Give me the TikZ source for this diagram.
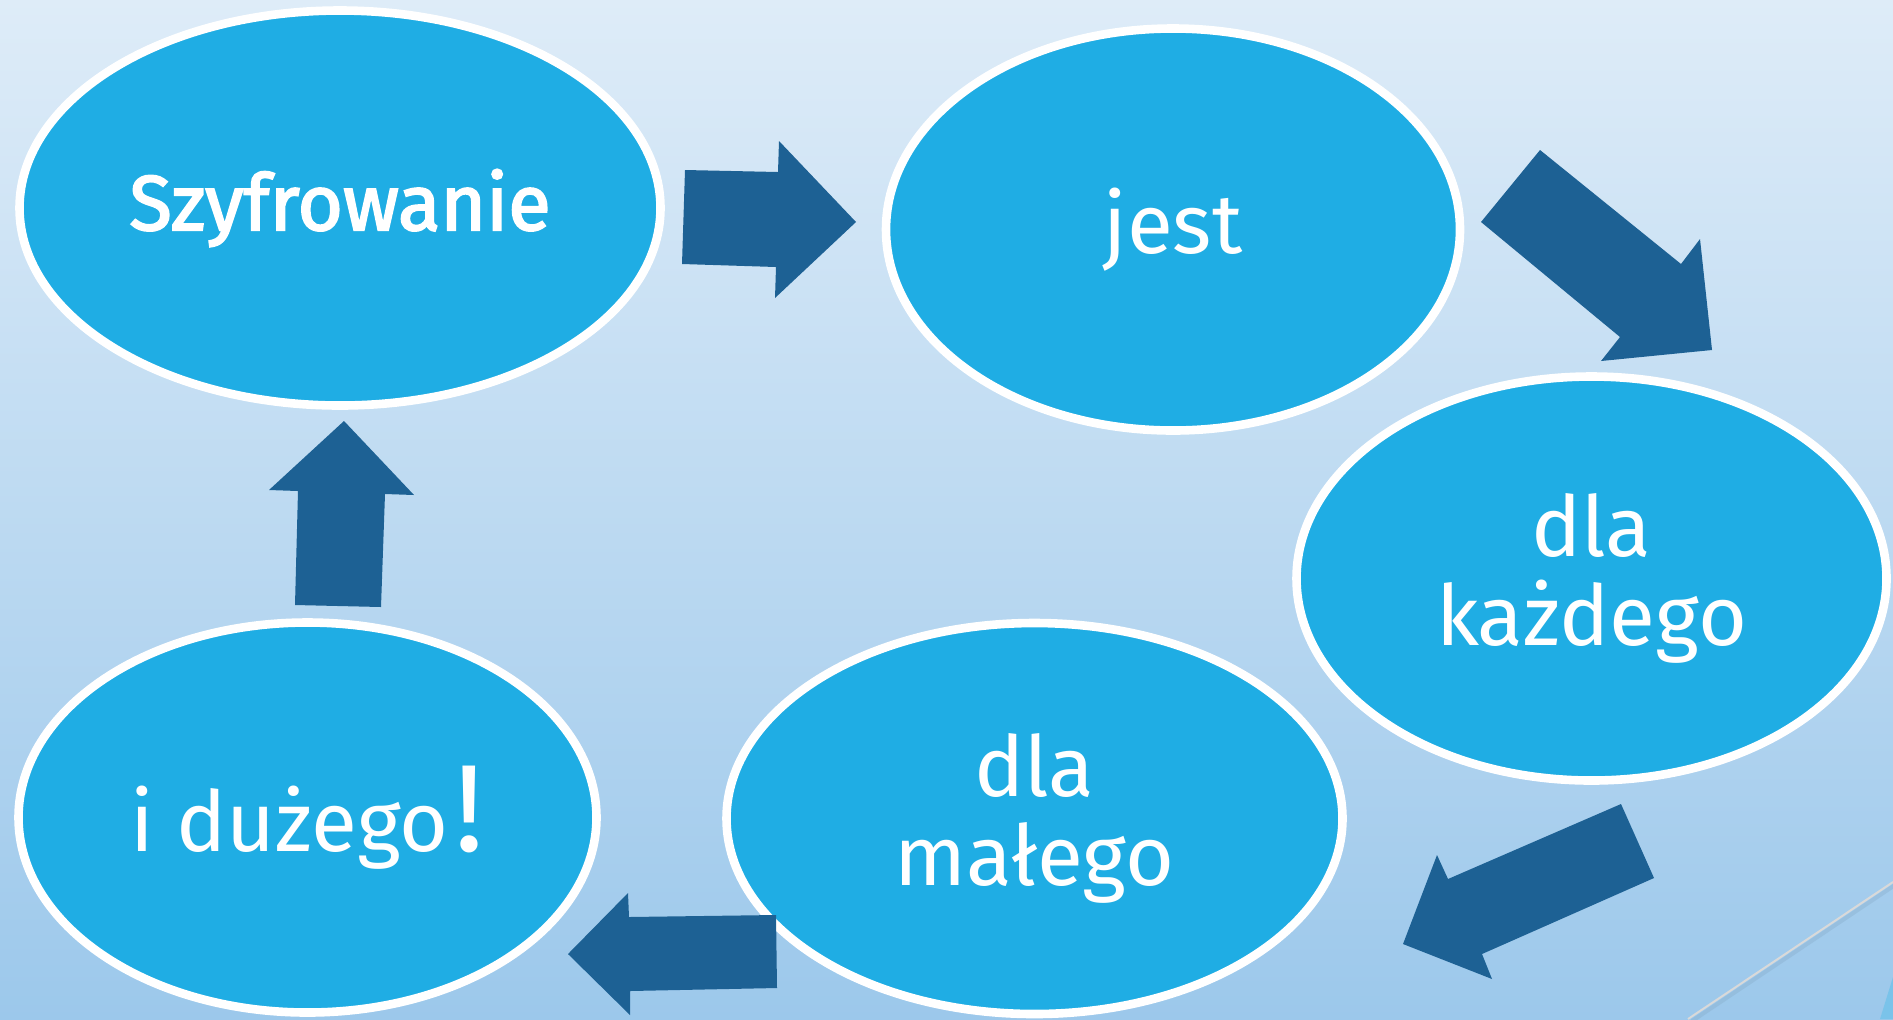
\documentclass[tikz,border=0pt]{standalone}
\usepackage{fontspec}
\setmainfont{Fira Sans}
\newfontfamily\medfont[FakeBold=2.4]{Fira Sans}
\usetikzlibrary{shapes.geometric}

\definecolor{bgtop}{HTML}{DEECF8}
\definecolor{bgmid}{HTML}{B6D7F1}
\definecolor{bgbottom}{HTML}{9CC8EB}
\definecolor{bubbleblue}{HTML}{1FADE4}
\definecolor{arrowblue}{HTML}{1D6194}
\definecolor{decoblue}{HTML}{7AC3EA}
\definecolor{decoline}{HTML}{D9D9D9}

\tikzset{
  bubble/.style={ellipse, draw=white, line width=4.3pt, fill=bubbleblue,
    text=white, inner sep=0pt, align=center,
    font=\fontsize{42}{44.5}\selectfont},
  bigarrow/.style={fill=arrowblue}
}

\begin{document}
\begin{tikzpicture}[x=0.5pt,y=-0.5pt]

% background
\useasboundingbox (0,0) rectangle (1893,1019);
\shade[top color=bgtop, middle color=bgmid, bottom color=bgbottom] (0,0) rectangle (1893,1019);
\fill[decoblue] (1893,977) -- (1880,1019) -- (1893,1019) -- cycle;
\draw[line width=2pt, bgbottom!85!black, opacity=0.35] (1692,1021) -- (1895,885);
\draw[line width=1pt, decoline] (1688,1019) -- (1893,882);

% the five bubbles
\node[bubble, minimum width=320.5pt, minimum height=197.5pt,
  font=\medfont\fontsize{39}{40}\selectfont] (szyfr) at (340,208) {Szyfrowanie};
\node[bubble, minimum width=287pt, minimum height=201pt] (jest) at (1173,229.5) {\raisebox{-3.5pt}{jest}};
\node[bubble, minimum width=295pt, minimum height=202pt] (kazdy) at (1591.5,578.5) {dla\\każdego};
\node[bubble, minimum width=308pt, minimum height=195.5pt] (maly) at (1034.5,818.5) {dla\\małego};
\node[bubble, minimum width=289pt, minimum height=195pt] (duzy) at (307.5,817.5)
  {i dużego\kern3pt{\fontsize{62}{62}\selectfont !}};

% block arrows
\fill[bigarrow] (685,170) -- (778,172) -- (779,141) -- (856,222) -- (775,298) -- (776,267) -- (682,264) -- cycle;
\fill[bigarrow] (1540,150) -- (1681,264) -- (1700,239) -- (1712,350) -- (1601,361) -- (1620,337) -- (1481,222) -- cycle;
\fill[bigarrow] (1621,804) -- (1654,878) -- (1482,954) -- (1492,979) -- (1403,944) -- (1437,855) -- (1448,879) -- cycle;
\fill[bigarrow] (776,915) -- (777,988) -- (630,991) -- (630,1015) -- (568,954) -- (628,893) -- (629,917) -- cycle;
\fill[bigarrow] (295,605) -- (381,607) -- (385,494) -- (414,495) -- (344,421) -- (269,490) -- (298,491) -- cycle;

\end{tikzpicture}
\end{document}
